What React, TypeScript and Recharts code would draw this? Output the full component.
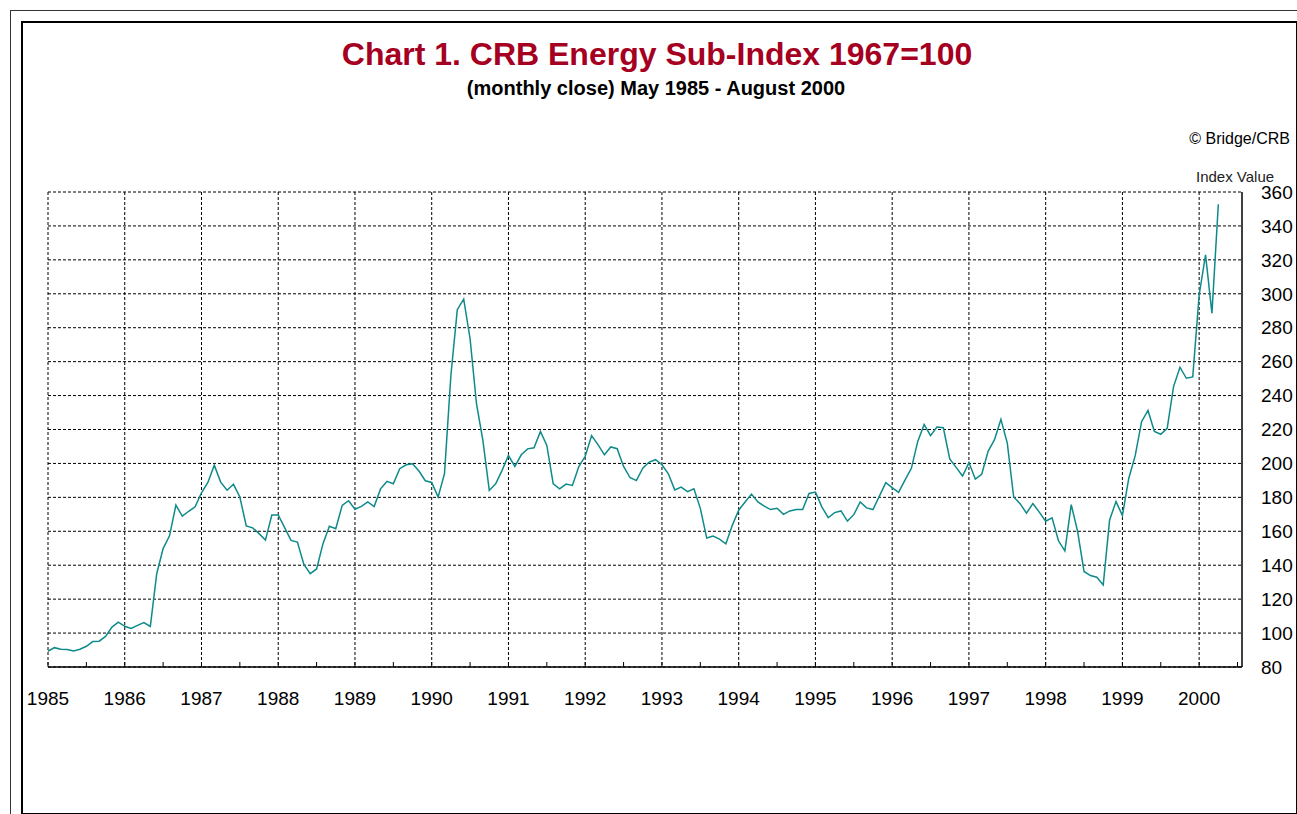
import { LineChart, Line, XAxis, YAxis, CartesianGrid } from 'recharts';

// monthly close, May 1985 .. August 2000
const startYear = 1985;
const startMonth = 5;

const indexValues = [
  // 1985 (May-Dec)
  89.3, 91.4, 90.5, 90.3, 89.5, 90.5, 92.2, 95,
  // 1986
  95.2, 98, 103.5, 106.4, 104, 102.7, 104.5, 106.2, 103.9, 135, 149.8, 157.3,
  // 1987
  175.4, 168.9, 171.8, 174.4, 182.7, 188.8, 199, 189, 184.2, 187.7, 180.2, 163.2,
  // 1988
  162, 158.6, 154.8, 169.6, 169.6, 162.2, 154.6, 153.6, 140.6, 135, 137.8, 152.7,
  // 1989
  163, 161.5, 175.3, 178, 173, 174.7, 177.3, 174.6, 185, 189.4, 188, 196.9,
  // 1990
  199.2, 199.8, 195.5, 189.8, 188.8, 180.2, 194, 252, 290.6, 296.9, 273.5, 235.2,
  // 1991
  213.6, 184.1, 188, 195.9, 204.7, 198.2, 205.1, 208.6, 209.2, 218.9, 210.6, 188,
  // 1992
  185, 187.8, 187, 198.2, 204.2, 216.4, 211.1, 205.1, 209.7, 208.7, 198.2, 191.7,
  // 1993
  189.9, 197.2, 200.8, 202.2, 199.2, 193.9, 184.4, 186, 183.4, 185, 173.5, 156,
  // 1994
  157.2, 155.4, 152.6, 163.5, 172.4, 177.3, 181.9, 177.3, 174.8, 172.8, 173.6, 170,
  // 1995
  172, 172.8, 172.8, 182.3, 183.1, 174.4, 168, 171, 172, 166, 169.8, 177.3,
  // 1996
  173.8, 172.8, 180.7, 188.7, 185.7, 183, 190.2, 197.1, 213, 223, 216.4, 221.4,
  // 1997
  221, 202.7, 197.7, 192.6, 200.5, 190.8, 193.6, 207.1, 214, 226, 212, 180.2,
  // 1998
  176.3, 170.7, 176.3, 171.3, 165.9, 167.9, 154.4, 148.5, 175.7, 159.8, 136.3, 133.9,
  // 1999
  132.9, 128.4, 166.7, 177.5, 169.3, 191.3, 204.6, 224.6, 231.2, 218.8, 217.2, 220.7,
  // 2000 (Jan-Aug)
  245.3, 256.7, 250.2, 251, 299.3, 322.9, 288.5, 352.8,
];

const yearLabels = [
  '1985', '1986', '1987', '1988', '1989', '1990', '1991', '1992',
  '1993', '1994', '1995', '1996', '1997', '1998', '1999', '2000',
];

const valueTicks = [80, 100, 120, 140, 160, 180, 200, 220, 240, 260, 280, 300, 320, 340, 360];

const MONTHS = ['Jan', 'Feb', 'Mar', 'Apr', 'May', 'Jun', 'Jul', 'Aug', 'Sep', 'Oct', 'Nov', 'Dec'];

const chartData = indexValues.map((value, i) => {
  const m = startMonth - 1 + i;
  return { i, month: `${MONTHS[m % 12]} ${startYear + Math.floor(m / 12)}`, value };
});

// year lines every 12 points, small ticks every half year
const yearTicks = yearLabels.map((_, k) => k * 12);
const halfYearTicks = yearTicks.flatMap(t => [t, t + 6]);

const FONT = '"Liberation Sans", Arial, sans-serif';

const YearTick = ({ x, y, payload }: any) => {
  const k = yearTicks.indexOf(payload.value);
  return (
    <g>
      <line x1={x} y1={y} x2={x} y2={y - 5} stroke="#000" strokeWidth={1} />
      {k >= 0 && (
        <text x={x} y={y + 38} textAnchor="middle" fontSize={19} fill="#000" fontFamily={FONT}>
          {yearLabels[k]}
        </text>
      )}
    </g>
  );
};

export default function App() {
  return (
    <div style={{ position: 'absolute', left: 0, top: 0, width: 1297, height: 814, overflow: 'hidden', background: '#fff', fontFamily: FONT }}>
      <div style={{ position: 'absolute', left: 10, top: 10, width: 1400, height: 1000, borderLeft: '1px solid #333', borderTop: '1px solid #333' }} />
      <div style={{ position: 'absolute', left: 21, top: 21, width: 1273, height: 790, border: '2px solid #000' }} />

      <div style={{ position: 'absolute', left: 657, top: 38, transform: 'translateX(-50%)', whiteSpace: 'nowrap', fontSize: 32, lineHeight: '32px', fontWeight: 'bold', color: '#a50021' }}>
        Chart 1. CRB Energy Sub-Index 1967=100
      </div>
      <div style={{ position: 'absolute', left: 656, top: 78, transform: 'translateX(-50%)', whiteSpace: 'nowrap', fontSize: 20, lineHeight: '20px', fontWeight: 'bold', color: '#000' }}>
        (monthly close) May 1985 - August 2000
      </div>
      <div style={{ position: 'absolute', right: 7, top: 131, whiteSpace: 'nowrap', fontSize: 16, lineHeight: '16px', color: '#000' }}>
        © Bridge/CRB
      </div>

      <div style={{ position: 'absolute', left: 0, top: 0 }}>
        <LineChart width={1297} height={814} data={chartData} margin={{ top: 192, right: 0, bottom: 107, left: 48 }}>
          <CartesianGrid stroke="#000" strokeDasharray="3 2" verticalValues={yearTicks} horizontalValues={valueTicks} />
          <XAxis
            dataKey="i"
            type="number"
            domain={[0, 186.7]}
            ticks={halfYearTicks}
            interval={0}
            tickLine={false}
            tickSize={0}
            tickMargin={0}
            height={40}
            axisLine={{ stroke: '#000', strokeWidth: 1.5 }}
            tick={<YearTick />}
          />
          <XAxis xAxisId="top" orientation="top" type="number" domain={[0, 186.7]} height={0} tick={false} tickLine={false} axisLine={{ stroke: '#000', strokeWidth: 1.5 }} />
          <YAxis
            orientation="right"
            domain={[80, 360]}
            ticks={valueTicks}
            interval={0}
            width={55}
            tickLine={false}
            tickSize={0}
            tickMargin={19}
            axisLine={{ stroke: '#000', strokeWidth: 1.5 }}
            tick={{ fontSize: 19, fill: '#000', fontFamily: FONT }}
          />
          <YAxis yAxisId="left" orientation="left" domain={[80, 360]} width={0} tick={false} tickLine={false} axisLine={{ stroke: '#000', strokeWidth: 1.5 }} />
          <Line type="linear" dataKey="value" stroke="#0f8a8a" strokeWidth={1.5} dot={false} isAnimationActive={false} />
        </LineChart>
      </div>

      <div style={{ position: 'absolute', left: 1196, top: 169, whiteSpace: 'nowrap', fontSize: 15, lineHeight: '15px', color: '#222' }}>
        Index Value
      </div>
    </div>
  );
}
